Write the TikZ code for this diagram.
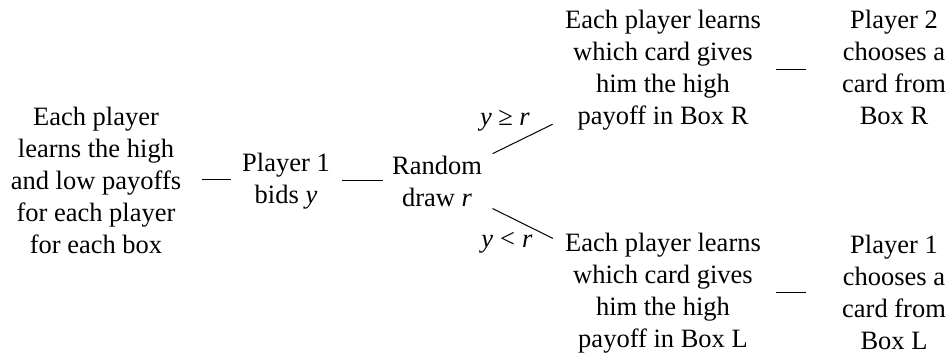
\documentclass[tikz,border=0pt]{standalone}
\usepackage{fontspec}
\setmainfont{Liberation Serif}
\begin{document}
\begin{tikzpicture}[x=1pt,y=1pt,
  txt/.style={align=center, inner sep=0pt, font=\fontsize{26.5}{32}\selectfont},
  lbl/.style={inner sep=0pt, font=\fontsize{26.5}{32}\selectfont},
  conn/.style={line width=1pt}]
\useasboundingbox (0,0) rectangle (949,358);
\node[txt] (a) at (96,178) {Each player\\learns the high\\and low payoffs\\for each player\\for each box};
\node[txt] (b) at (286,177) {Player 1\\bids \textit{y}};
\node[txt] (c) at (437,177) {Random\\draw \textit{r}};
\node[txt] (d) at (663,288) {Each player learns\\which card gives\\him the high\\payoff in Box R};
\node[txt] (e) at (894,291) {Player 2\\chooses a\\card from\\Box R};
\node[txt] (f) at (663,65) {Each player learns\\which card gives\\him the high\\payoff in Box L};
\node[txt] (g) at (894,66) {Player 1\\chooses a\\card from\\Box L};
\node[lbl] (l1) at (505,237) {\textit{y}\hspace{6.5pt}≥\hspace{6.5pt}\textit{r}};
\node[lbl] (l2) at (507,115) {\textit{y}\hspace{7pt}<\hspace{7pt}\textit{r}};
\draw[conn, shorten <=106pt, shorten >=55pt] (a.center) -- (a.center -| b.center);
\draw[conn, shorten <=56pt, shorten >=54pt] (b.center) -- (b.center -| c.center);
\draw[conn, shorten <=113pt, shorten >=88pt] (d.center) -- (d.center -| e.center);
\draw[conn, shorten <=113pt, shorten >=88pt] (f.center) -- (f.center -| g.center);
\draw[conn, shorten <=62pt, shorten >=123pt] (c.center) -- (d.center);
\draw[conn, shorten <=62pt, shorten >=123pt] (c.center) -- (f.center);
\end{tikzpicture}
\end{document}
